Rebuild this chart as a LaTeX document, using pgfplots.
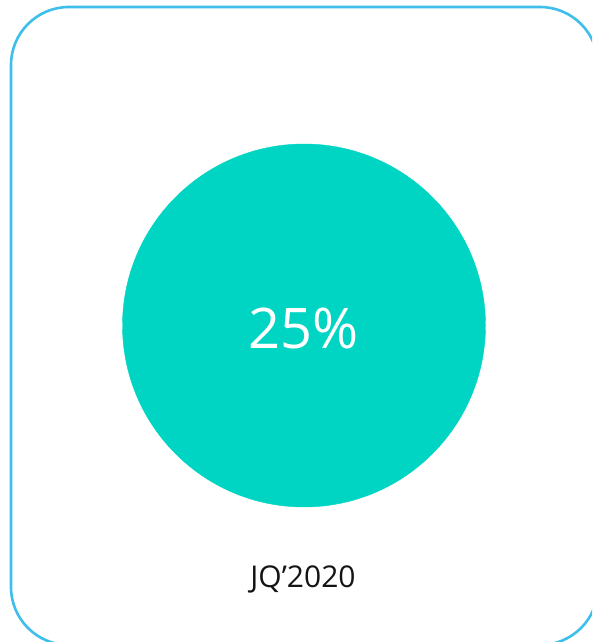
\documentclass[border=0pt]{standalone}
\usepackage{pgfplots}
\pgfplotsset{compat=1.18}
\usepackage{fontspec}
\setmainfont{Open Sans}

\definecolor{cardline}{RGB}{62,190,235}
\definecolor{bubble}{RGB}{0,213,196}
\definecolor{labeltext}{RGB}{20,20,20}

\begin{document}
\begin{tikzpicture}[x=1pt,y=1pt]
  \useasboundingbox (0,0) rectangle (592,642);
  \begin{scope}
    \clip (0,0) rectangle (592,642);
    \draw[cardline, line width=2.6pt, rounded corners=58pt] (11,635) rectangle (598,-3);
  \end{scope}
  \begin{axis}[
    at={(0,0)}, anchor=south west,
    scale only axis, width=592pt, height=642pt,
    xmin=0, xmax=592, ymin=0, ymax=642,
    hide axis, clip=false,
  ]
    \addplot[color=bubble, only marks, mark=*, mark size=181.5pt,
      mark options={fill=bubble, draw=bubble},
      point meta=explicit,
      nodes near coords={\pgfmathprintnumber[assume math mode=true]{\pgfplotspointmeta}\%},
      every node near coord/.append style={anchor=center, text=white,
        font=\fontsize{56}{60}\selectfont, yshift=-3pt}]
      coordinates {(304,316.5) [25]};
    \node[text=labeltext, font=\fontsize{30}{34}\selectfont, anchor=center]
      at (axis cs:303,63) {JQ’2020};
  \end{axis}
\end{tikzpicture}
\end{document}
